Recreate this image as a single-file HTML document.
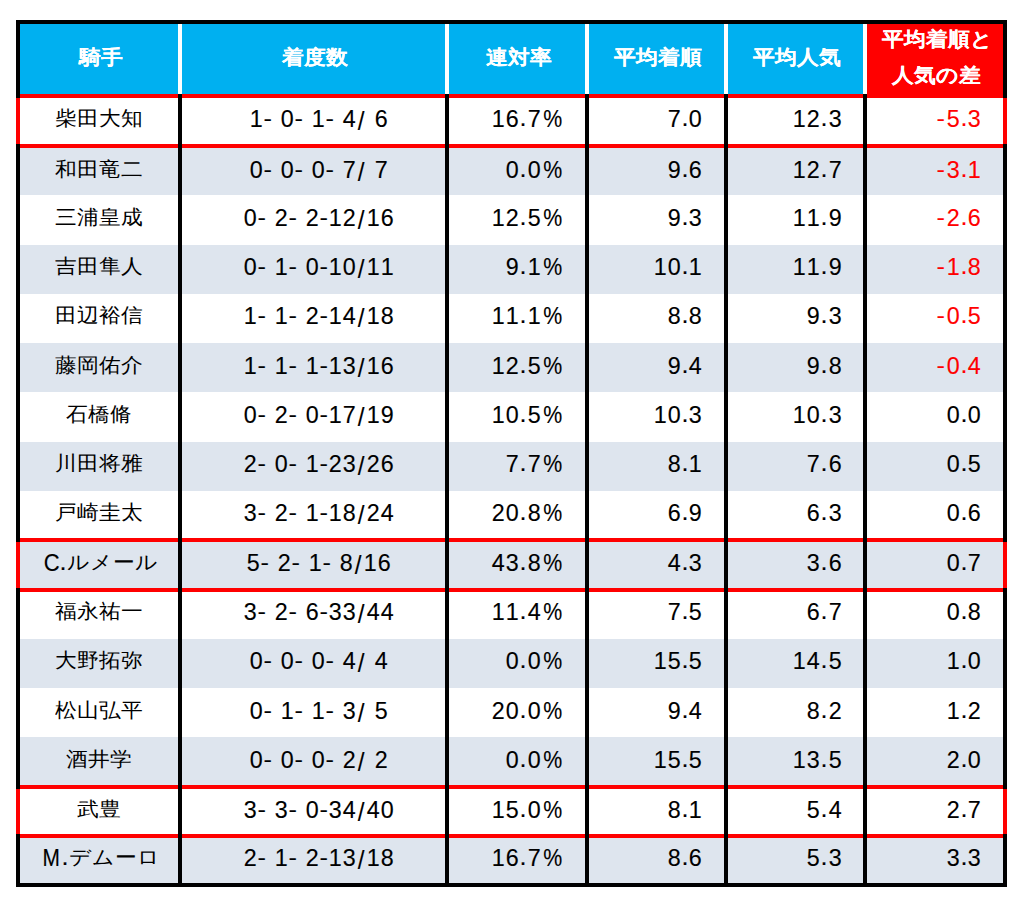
<!DOCTYPE html>
<html><head><meta charset="utf-8"><style>
html,body{margin:0;padding:0;background:#fff}
body{width:1024px;height:909px;position:relative;overflow:hidden;font-family:"Liberation Sans",sans-serif;font-size:22px}
.b{position:absolute}
.t{position:absolute;height:44px;line-height:44px;white-space:pre}
.t span.h{display:inline-block;transform:scaleY(0.92);transform-origin:50% 13px;text-shadow:0 0 0.6px #fff}
.t i{display:inline-block;font-style:normal;text-align:center;white-space:pre}
.t i b{display:inline-block;font-weight:normal;transform-origin:50% 12px;-webkit-text-stroke:0.12px currentColor}
.t u{display:inline-block;text-decoration:none;transform:scaleY(0.92);transform-origin:50% 22px}
</style></head><body>
<div class="b" style="left:20px;top:24px;width:843px;height:70px;background:#00B0F0"></div>
<div class="b" style="left:867px;top:24px;width:136px;height:74px;background:#FF0000"></div>
<div class="b" style="left:178px;top:24px;width:4px;height:70px;background:#fff"></div>
<div class="b" style="left:445px;top:24px;width:4px;height:70px;background:#fff"></div>
<div class="b" style="left:585px;top:24px;width:4px;height:70px;background:#fff"></div>
<div class="b" style="left:724px;top:24px;width:4px;height:70px;background:#fff"></div>
<div class="b" style="left:863px;top:24px;width:4px;height:70px;background:#fff"></div>
<div class="b" style="left:20px;top:146px;width:983px;height:49px;background:#DEE5EE"></div>
<div class="b" style="left:20px;top:245px;width:983px;height:49px;background:#DEE5EE"></div>
<div class="b" style="left:20px;top:343px;width:983px;height:49px;background:#DEE5EE"></div>
<div class="b" style="left:20px;top:442px;width:983px;height:49px;background:#DEE5EE"></div>
<div class="b" style="left:20px;top:540px;width:983px;height:50px;background:#DEE5EE"></div>
<div class="b" style="left:20px;top:639px;width:983px;height:49px;background:#DEE5EE"></div>
<div class="b" style="left:20px;top:737px;width:983px;height:50px;background:#DEE5EE"></div>
<div class="b" style="left:20px;top:836px;width:983px;height:49px;background:#DEE5EE"></div>
<div class="b" style="left:20px;top:94px;width:983px;height:4px;background:#FF0000"></div>
<div class="b" style="left:20px;top:144px;width:983px;height:4px;background:#FF0000"></div>
<div class="b" style="left:20px;top:538px;width:983px;height:4px;background:#FF0000"></div>
<div class="b" style="left:20px;top:588px;width:983px;height:4px;background:#FF0000"></div>
<div class="b" style="left:20px;top:785px;width:983px;height:4px;background:#FF0000"></div>
<div class="b" style="left:20px;top:834px;width:983px;height:4px;background:#FF0000"></div>
<div class="b" style="left:178px;top:94px;width:4px;height:789px;background:#000"></div>
<div class="b" style="left:445px;top:94px;width:4px;height:789px;background:#000"></div>
<div class="b" style="left:585px;top:94px;width:4px;height:789px;background:#000"></div>
<div class="b" style="left:724px;top:94px;width:4px;height:789px;background:#000"></div>
<div class="b" style="left:863px;top:94px;width:4px;height:789px;background:#000"></div>
<div class="b" style="left:16px;top:20px;width:991px;height:4px;background:#000"></div>
<div class="b" style="left:16px;top:883px;width:991px;height:4px;background:#000"></div>
<div class="b" style="left:16px;top:20px;width:4px;height:867px;background:#000"></div>
<div class="b" style="left:1003px;top:20px;width:4px;height:867px;background:#000"></div>
<div class="b" style="left:16px;top:98px;width:4px;height:46px;background:#FF0000"></div>
<div class="b" style="left:1003px;top:98px;width:4px;height:46px;background:#FF0000"></div>
<div class="b" style="left:16px;top:542px;width:4px;height:46px;background:#FF0000"></div>
<div class="b" style="left:1003px;top:542px;width:4px;height:46px;background:#FF0000"></div>
<div class="b" style="left:16px;top:789px;width:4px;height:45px;background:#FF0000"></div>
<div class="b" style="left:1003px;top:789px;width:4px;height:45px;background:#FF0000"></div>
<div class="t" style="top:36.2px;color:#fff;font-weight:bold;font-size:22px;left:-199.5px;width:600px;text-align:center;"><span class="h">騎手</span></div>
<div class="t" style="top:36.2px;color:#fff;font-weight:bold;font-size:22px;left:15.0px;width:600px;text-align:center;"><span class="h">着度数</span></div>
<div class="t" style="top:36.2px;color:#fff;font-weight:bold;font-size:22px;left:218.5px;width:600px;text-align:center;"><span class="h">連対率</span></div>
<div class="t" style="top:36.2px;color:#fff;font-weight:bold;font-size:22px;left:358.0px;width:600px;text-align:center;"><span class="h">平均着順</span></div>
<div class="t" style="top:36.2px;color:#fff;font-weight:bold;font-size:22px;left:497.0px;width:600px;text-align:center;"><span class="h">平均人気</span></div>
<div class="t" style="top:17.6px;color:#fff;font-weight:bold;font-size:22px;left:637.0px;width:600px;text-align:center;"><span class="h">平均着順と</span></div>
<div class="t" style="top:54.0px;color:#fff;font-weight:bold;font-size:22px;left:636.2px;width:600px;text-align:center;"><span class="h">人気の差</span></div>
<div class="t" style="top:96.5px;color:#000;left:-201.0px;width:600px;text-align:center;"><u>柴田大知</u></div>
<div class="t" style="top:96.5px;color:#000;left:18.5px;width:600px;text-align:center;"><i style="width:13.82px"><b style="transform:translateY(-0.4px) scale(1.06,1.09)">1</b></i><i style="width:9.48px"><b style="transform:scaleX(1.15)">-</b></i><i style="width:7.74px"><b style="transform:translateY(-0.4px) scale(1.06,1.09)"> </b></i><i style="width:13.82px"><b style="transform:translateY(-0.4px) scale(1.06,1.09)">0</b></i><i style="width:9.48px"><b style="transform:scaleX(1.15)">-</b></i><i style="width:7.74px"><b style="transform:translateY(-0.4px) scale(1.06,1.09)"> </b></i><i style="width:13.82px"><b style="transform:translateY(-0.4px) scale(1.06,1.09)">1</b></i><i style="width:9.48px"><b style="transform:scaleX(1.15)">-</b></i><i style="width:7.74px"><b style="transform:translateY(-0.4px) scale(1.06,1.09)"> </b></i><i style="width:13.82px"><b style="transform:translateY(-0.4px) scale(1.06,1.09)">4</b></i><i style="width:9.99px"><b style="transform:translateY(0.5px) scale(1.1,1.2)">/</b></i><i style="width:7.74px"><b style="transform:translateY(-0.4px) scale(1.06,1.09)"> </b></i><i style="width:13.82px"><b style="transform:translateY(-0.4px) scale(1.06,1.09)">6</b></i></div>
<div class="t" style="top:96.5px;color:#000;left:-36.0px;width:600px;text-align:right;"><i style="width:13.82px"><b style="transform:translateY(-0.4px) scale(1.06,1.09)">1</b></i><i style="width:13.82px"><b style="transform:translateY(-0.4px) scale(1.06,1.09)">6</b></i><i style="width:8.01px"><b style="transform:translateY(-0.5px) scale(1.15,1.05)">.</b></i><i style="width:13.82px"><b style="transform:translateY(-0.4px) scale(1.06,1.09)">7</b></i><i style="width:22.88px"><b style="transform:translateY(-0.4px) scale(0.97,1.09)">%</b></i></div>
<div class="t" style="top:96.5px;color:#000;left:102.5px;width:600px;text-align:right;"><i style="width:13.82px"><b style="transform:translateY(-0.4px) scale(1.06,1.09)">7</b></i><i style="width:8.01px"><b style="transform:translateY(-0.5px) scale(1.15,1.05)">.</b></i><i style="width:13.82px"><b style="transform:translateY(-0.4px) scale(1.06,1.09)">0</b></i></div>
<div class="t" style="top:96.5px;color:#000;left:242.0px;width:600px;text-align:right;"><i style="width:13.82px"><b style="transform:translateY(-0.4px) scale(1.06,1.09)">1</b></i><i style="width:13.82px"><b style="transform:translateY(-0.4px) scale(1.06,1.09)">2</b></i><i style="width:8.01px"><b style="transform:translateY(-0.5px) scale(1.15,1.05)">.</b></i><i style="width:13.82px"><b style="transform:translateY(-0.4px) scale(1.06,1.09)">3</b></i></div>
<div class="t" style="top:96.5px;color:#FF0000;left:381.5px;width:600px;text-align:right;"><i style="width:9.48px"><b style="transform:scaleX(1.15)">-</b></i><i style="width:13.82px"><b style="transform:translateY(-0.4px) scale(1.06,1.09)">5</b></i><i style="width:8.01px"><b style="transform:translateY(-0.5px) scale(1.15,1.05)">.</b></i><i style="width:13.82px"><b style="transform:translateY(-0.4px) scale(1.06,1.09)">3</b></i></div>
<div class="t" style="top:147.9px;color:#000;left:-201.0px;width:600px;text-align:center;"><u>和田竜二</u></div>
<div class="t" style="top:147.9px;color:#000;left:18.5px;width:600px;text-align:center;"><i style="width:13.82px"><b style="transform:translateY(-0.4px) scale(1.06,1.09)">0</b></i><i style="width:9.48px"><b style="transform:scaleX(1.15)">-</b></i><i style="width:7.74px"><b style="transform:translateY(-0.4px) scale(1.06,1.09)"> </b></i><i style="width:13.82px"><b style="transform:translateY(-0.4px) scale(1.06,1.09)">0</b></i><i style="width:9.48px"><b style="transform:scaleX(1.15)">-</b></i><i style="width:7.74px"><b style="transform:translateY(-0.4px) scale(1.06,1.09)"> </b></i><i style="width:13.82px"><b style="transform:translateY(-0.4px) scale(1.06,1.09)">0</b></i><i style="width:9.48px"><b style="transform:scaleX(1.15)">-</b></i><i style="width:7.74px"><b style="transform:translateY(-0.4px) scale(1.06,1.09)"> </b></i><i style="width:13.82px"><b style="transform:translateY(-0.4px) scale(1.06,1.09)">7</b></i><i style="width:9.99px"><b style="transform:translateY(0.5px) scale(1.1,1.2)">/</b></i><i style="width:7.74px"><b style="transform:translateY(-0.4px) scale(1.06,1.09)"> </b></i><i style="width:13.82px"><b style="transform:translateY(-0.4px) scale(1.06,1.09)">7</b></i></div>
<div class="t" style="top:147.9px;color:#000;left:-36.0px;width:600px;text-align:right;"><i style="width:13.82px"><b style="transform:translateY(-0.4px) scale(1.06,1.09)">0</b></i><i style="width:8.01px"><b style="transform:translateY(-0.5px) scale(1.15,1.05)">.</b></i><i style="width:13.82px"><b style="transform:translateY(-0.4px) scale(1.06,1.09)">0</b></i><i style="width:22.88px"><b style="transform:translateY(-0.4px) scale(0.97,1.09)">%</b></i></div>
<div class="t" style="top:147.9px;color:#000;left:102.5px;width:600px;text-align:right;"><i style="width:13.82px"><b style="transform:translateY(-0.4px) scale(1.06,1.09)">9</b></i><i style="width:8.01px"><b style="transform:translateY(-0.5px) scale(1.15,1.05)">.</b></i><i style="width:13.82px"><b style="transform:translateY(-0.4px) scale(1.06,1.09)">6</b></i></div>
<div class="t" style="top:147.9px;color:#000;left:242.0px;width:600px;text-align:right;"><i style="width:13.82px"><b style="transform:translateY(-0.4px) scale(1.06,1.09)">1</b></i><i style="width:13.82px"><b style="transform:translateY(-0.4px) scale(1.06,1.09)">2</b></i><i style="width:8.01px"><b style="transform:translateY(-0.5px) scale(1.15,1.05)">.</b></i><i style="width:13.82px"><b style="transform:translateY(-0.4px) scale(1.06,1.09)">7</b></i></div>
<div class="t" style="top:147.9px;color:#FF0000;left:381.5px;width:600px;text-align:right;"><i style="width:9.48px"><b style="transform:scaleX(1.15)">-</b></i><i style="width:13.82px"><b style="transform:translateY(-0.4px) scale(1.06,1.09)">3</b></i><i style="width:8.01px"><b style="transform:translateY(-0.5px) scale(1.15,1.05)">.</b></i><i style="width:13.82px"><b style="transform:translateY(-0.4px) scale(1.06,1.09)">1</b></i></div>
<div class="t" style="top:196.0px;color:#000;left:-201.0px;width:600px;text-align:center;"><u>三浦皇成</u></div>
<div class="t" style="top:196.0px;color:#000;left:18.5px;width:600px;text-align:center;"><i style="width:13.82px"><b style="transform:translateY(-0.4px) scale(1.06,1.09)">0</b></i><i style="width:9.48px"><b style="transform:scaleX(1.15)">-</b></i><i style="width:7.74px"><b style="transform:translateY(-0.4px) scale(1.06,1.09)"> </b></i><i style="width:13.82px"><b style="transform:translateY(-0.4px) scale(1.06,1.09)">2</b></i><i style="width:9.48px"><b style="transform:scaleX(1.15)">-</b></i><i style="width:7.74px"><b style="transform:translateY(-0.4px) scale(1.06,1.09)"> </b></i><i style="width:13.82px"><b style="transform:translateY(-0.4px) scale(1.06,1.09)">2</b></i><i style="width:9.48px"><b style="transform:scaleX(1.15)">-</b></i><i style="width:13.82px"><b style="transform:translateY(-0.4px) scale(1.06,1.09)">1</b></i><i style="width:13.82px"><b style="transform:translateY(-0.4px) scale(1.06,1.09)">2</b></i><i style="width:9.99px"><b style="transform:translateY(0.5px) scale(1.1,1.2)">/</b></i><i style="width:13.82px"><b style="transform:translateY(-0.4px) scale(1.06,1.09)">1</b></i><i style="width:13.82px"><b style="transform:translateY(-0.4px) scale(1.06,1.09)">6</b></i></div>
<div class="t" style="top:196.0px;color:#000;left:-36.0px;width:600px;text-align:right;"><i style="width:13.82px"><b style="transform:translateY(-0.4px) scale(1.06,1.09)">1</b></i><i style="width:13.82px"><b style="transform:translateY(-0.4px) scale(1.06,1.09)">2</b></i><i style="width:8.01px"><b style="transform:translateY(-0.5px) scale(1.15,1.05)">.</b></i><i style="width:13.82px"><b style="transform:translateY(-0.4px) scale(1.06,1.09)">5</b></i><i style="width:22.88px"><b style="transform:translateY(-0.4px) scale(0.97,1.09)">%</b></i></div>
<div class="t" style="top:196.0px;color:#000;left:102.5px;width:600px;text-align:right;"><i style="width:13.82px"><b style="transform:translateY(-0.4px) scale(1.06,1.09)">9</b></i><i style="width:8.01px"><b style="transform:translateY(-0.5px) scale(1.15,1.05)">.</b></i><i style="width:13.82px"><b style="transform:translateY(-0.4px) scale(1.06,1.09)">3</b></i></div>
<div class="t" style="top:196.0px;color:#000;left:242.0px;width:600px;text-align:right;"><i style="width:13.82px"><b style="transform:translateY(-0.4px) scale(1.06,1.09)">1</b></i><i style="width:13.82px"><b style="transform:translateY(-0.4px) scale(1.06,1.09)">1</b></i><i style="width:8.01px"><b style="transform:translateY(-0.5px) scale(1.15,1.05)">.</b></i><i style="width:13.82px"><b style="transform:translateY(-0.4px) scale(1.06,1.09)">9</b></i></div>
<div class="t" style="top:196.0px;color:#FF0000;left:381.5px;width:600px;text-align:right;"><i style="width:9.48px"><b style="transform:scaleX(1.15)">-</b></i><i style="width:13.82px"><b style="transform:translateY(-0.4px) scale(1.06,1.09)">2</b></i><i style="width:8.01px"><b style="transform:translateY(-0.5px) scale(1.15,1.05)">.</b></i><i style="width:13.82px"><b style="transform:translateY(-0.4px) scale(1.06,1.09)">6</b></i></div>
<div class="t" style="top:245.2px;color:#000;left:-201.0px;width:600px;text-align:center;"><u>吉田隼人</u></div>
<div class="t" style="top:245.2px;color:#000;left:18.5px;width:600px;text-align:center;"><i style="width:13.82px"><b style="transform:translateY(-0.4px) scale(1.06,1.09)">0</b></i><i style="width:9.48px"><b style="transform:scaleX(1.15)">-</b></i><i style="width:7.74px"><b style="transform:translateY(-0.4px) scale(1.06,1.09)"> </b></i><i style="width:13.82px"><b style="transform:translateY(-0.4px) scale(1.06,1.09)">1</b></i><i style="width:9.48px"><b style="transform:scaleX(1.15)">-</b></i><i style="width:7.74px"><b style="transform:translateY(-0.4px) scale(1.06,1.09)"> </b></i><i style="width:13.82px"><b style="transform:translateY(-0.4px) scale(1.06,1.09)">0</b></i><i style="width:9.48px"><b style="transform:scaleX(1.15)">-</b></i><i style="width:13.82px"><b style="transform:translateY(-0.4px) scale(1.06,1.09)">1</b></i><i style="width:13.82px"><b style="transform:translateY(-0.4px) scale(1.06,1.09)">0</b></i><i style="width:9.99px"><b style="transform:translateY(0.5px) scale(1.1,1.2)">/</b></i><i style="width:13.82px"><b style="transform:translateY(-0.4px) scale(1.06,1.09)">1</b></i><i style="width:13.82px"><b style="transform:translateY(-0.4px) scale(1.06,1.09)">1</b></i></div>
<div class="t" style="top:245.2px;color:#000;left:-36.0px;width:600px;text-align:right;"><i style="width:13.82px"><b style="transform:translateY(-0.4px) scale(1.06,1.09)">9</b></i><i style="width:8.01px"><b style="transform:translateY(-0.5px) scale(1.15,1.05)">.</b></i><i style="width:13.82px"><b style="transform:translateY(-0.4px) scale(1.06,1.09)">1</b></i><i style="width:22.88px"><b style="transform:translateY(-0.4px) scale(0.97,1.09)">%</b></i></div>
<div class="t" style="top:245.2px;color:#000;left:102.5px;width:600px;text-align:right;"><i style="width:13.82px"><b style="transform:translateY(-0.4px) scale(1.06,1.09)">1</b></i><i style="width:13.82px"><b style="transform:translateY(-0.4px) scale(1.06,1.09)">0</b></i><i style="width:8.01px"><b style="transform:translateY(-0.5px) scale(1.15,1.05)">.</b></i><i style="width:13.82px"><b style="transform:translateY(-0.4px) scale(1.06,1.09)">1</b></i></div>
<div class="t" style="top:245.2px;color:#000;left:242.0px;width:600px;text-align:right;"><i style="width:13.82px"><b style="transform:translateY(-0.4px) scale(1.06,1.09)">1</b></i><i style="width:13.82px"><b style="transform:translateY(-0.4px) scale(1.06,1.09)">1</b></i><i style="width:8.01px"><b style="transform:translateY(-0.5px) scale(1.15,1.05)">.</b></i><i style="width:13.82px"><b style="transform:translateY(-0.4px) scale(1.06,1.09)">9</b></i></div>
<div class="t" style="top:245.2px;color:#FF0000;left:381.5px;width:600px;text-align:right;"><i style="width:9.48px"><b style="transform:scaleX(1.15)">-</b></i><i style="width:13.82px"><b style="transform:translateY(-0.4px) scale(1.06,1.09)">1</b></i><i style="width:8.01px"><b style="transform:translateY(-0.5px) scale(1.15,1.05)">.</b></i><i style="width:13.82px"><b style="transform:translateY(-0.4px) scale(1.06,1.09)">8</b></i></div>
<div class="t" style="top:294.0px;color:#000;left:-201.0px;width:600px;text-align:center;"><u>田辺裕信</u></div>
<div class="t" style="top:294.0px;color:#000;left:18.5px;width:600px;text-align:center;"><i style="width:13.82px"><b style="transform:translateY(-0.4px) scale(1.06,1.09)">1</b></i><i style="width:9.48px"><b style="transform:scaleX(1.15)">-</b></i><i style="width:7.74px"><b style="transform:translateY(-0.4px) scale(1.06,1.09)"> </b></i><i style="width:13.82px"><b style="transform:translateY(-0.4px) scale(1.06,1.09)">1</b></i><i style="width:9.48px"><b style="transform:scaleX(1.15)">-</b></i><i style="width:7.74px"><b style="transform:translateY(-0.4px) scale(1.06,1.09)"> </b></i><i style="width:13.82px"><b style="transform:translateY(-0.4px) scale(1.06,1.09)">2</b></i><i style="width:9.48px"><b style="transform:scaleX(1.15)">-</b></i><i style="width:13.82px"><b style="transform:translateY(-0.4px) scale(1.06,1.09)">1</b></i><i style="width:13.82px"><b style="transform:translateY(-0.4px) scale(1.06,1.09)">4</b></i><i style="width:9.99px"><b style="transform:translateY(0.5px) scale(1.1,1.2)">/</b></i><i style="width:13.82px"><b style="transform:translateY(-0.4px) scale(1.06,1.09)">1</b></i><i style="width:13.82px"><b style="transform:translateY(-0.4px) scale(1.06,1.09)">8</b></i></div>
<div class="t" style="top:294.0px;color:#000;left:-36.0px;width:600px;text-align:right;"><i style="width:13.82px"><b style="transform:translateY(-0.4px) scale(1.06,1.09)">1</b></i><i style="width:13.82px"><b style="transform:translateY(-0.4px) scale(1.06,1.09)">1</b></i><i style="width:8.01px"><b style="transform:translateY(-0.5px) scale(1.15,1.05)">.</b></i><i style="width:13.82px"><b style="transform:translateY(-0.4px) scale(1.06,1.09)">1</b></i><i style="width:22.88px"><b style="transform:translateY(-0.4px) scale(0.97,1.09)">%</b></i></div>
<div class="t" style="top:294.0px;color:#000;left:102.5px;width:600px;text-align:right;"><i style="width:13.82px"><b style="transform:translateY(-0.4px) scale(1.06,1.09)">8</b></i><i style="width:8.01px"><b style="transform:translateY(-0.5px) scale(1.15,1.05)">.</b></i><i style="width:13.82px"><b style="transform:translateY(-0.4px) scale(1.06,1.09)">8</b></i></div>
<div class="t" style="top:294.0px;color:#000;left:242.0px;width:600px;text-align:right;"><i style="width:13.82px"><b style="transform:translateY(-0.4px) scale(1.06,1.09)">9</b></i><i style="width:8.01px"><b style="transform:translateY(-0.5px) scale(1.15,1.05)">.</b></i><i style="width:13.82px"><b style="transform:translateY(-0.4px) scale(1.06,1.09)">3</b></i></div>
<div class="t" style="top:294.0px;color:#FF0000;left:381.5px;width:600px;text-align:right;"><i style="width:9.48px"><b style="transform:scaleX(1.15)">-</b></i><i style="width:13.82px"><b style="transform:translateY(-0.4px) scale(1.06,1.09)">0</b></i><i style="width:8.01px"><b style="transform:translateY(-0.5px) scale(1.15,1.05)">.</b></i><i style="width:13.82px"><b style="transform:translateY(-0.4px) scale(1.06,1.09)">5</b></i></div>
<div class="t" style="top:344.1px;color:#000;left:-201.0px;width:600px;text-align:center;"><u>藤岡佑介</u></div>
<div class="t" style="top:344.1px;color:#000;left:18.5px;width:600px;text-align:center;"><i style="width:13.82px"><b style="transform:translateY(-0.4px) scale(1.06,1.09)">1</b></i><i style="width:9.48px"><b style="transform:scaleX(1.15)">-</b></i><i style="width:7.74px"><b style="transform:translateY(-0.4px) scale(1.06,1.09)"> </b></i><i style="width:13.82px"><b style="transform:translateY(-0.4px) scale(1.06,1.09)">1</b></i><i style="width:9.48px"><b style="transform:scaleX(1.15)">-</b></i><i style="width:7.74px"><b style="transform:translateY(-0.4px) scale(1.06,1.09)"> </b></i><i style="width:13.82px"><b style="transform:translateY(-0.4px) scale(1.06,1.09)">1</b></i><i style="width:9.48px"><b style="transform:scaleX(1.15)">-</b></i><i style="width:13.82px"><b style="transform:translateY(-0.4px) scale(1.06,1.09)">1</b></i><i style="width:13.82px"><b style="transform:translateY(-0.4px) scale(1.06,1.09)">3</b></i><i style="width:9.99px"><b style="transform:translateY(0.5px) scale(1.1,1.2)">/</b></i><i style="width:13.82px"><b style="transform:translateY(-0.4px) scale(1.06,1.09)">1</b></i><i style="width:13.82px"><b style="transform:translateY(-0.4px) scale(1.06,1.09)">6</b></i></div>
<div class="t" style="top:344.1px;color:#000;left:-36.0px;width:600px;text-align:right;"><i style="width:13.82px"><b style="transform:translateY(-0.4px) scale(1.06,1.09)">1</b></i><i style="width:13.82px"><b style="transform:translateY(-0.4px) scale(1.06,1.09)">2</b></i><i style="width:8.01px"><b style="transform:translateY(-0.5px) scale(1.15,1.05)">.</b></i><i style="width:13.82px"><b style="transform:translateY(-0.4px) scale(1.06,1.09)">5</b></i><i style="width:22.88px"><b style="transform:translateY(-0.4px) scale(0.97,1.09)">%</b></i></div>
<div class="t" style="top:344.1px;color:#000;left:102.5px;width:600px;text-align:right;"><i style="width:13.82px"><b style="transform:translateY(-0.4px) scale(1.06,1.09)">9</b></i><i style="width:8.01px"><b style="transform:translateY(-0.5px) scale(1.15,1.05)">.</b></i><i style="width:13.82px"><b style="transform:translateY(-0.4px) scale(1.06,1.09)">4</b></i></div>
<div class="t" style="top:344.1px;color:#000;left:242.0px;width:600px;text-align:right;"><i style="width:13.82px"><b style="transform:translateY(-0.4px) scale(1.06,1.09)">9</b></i><i style="width:8.01px"><b style="transform:translateY(-0.5px) scale(1.15,1.05)">.</b></i><i style="width:13.82px"><b style="transform:translateY(-0.4px) scale(1.06,1.09)">8</b></i></div>
<div class="t" style="top:344.1px;color:#FF0000;left:381.5px;width:600px;text-align:right;"><i style="width:9.48px"><b style="transform:scaleX(1.15)">-</b></i><i style="width:13.82px"><b style="transform:translateY(-0.4px) scale(1.06,1.09)">0</b></i><i style="width:8.01px"><b style="transform:translateY(-0.5px) scale(1.15,1.05)">.</b></i><i style="width:13.82px"><b style="transform:translateY(-0.4px) scale(1.06,1.09)">4</b></i></div>
<div class="t" style="top:392.6px;color:#000;left:-201.0px;width:600px;text-align:center;"><u>石橋脩</u></div>
<div class="t" style="top:392.6px;color:#000;left:18.5px;width:600px;text-align:center;"><i style="width:13.82px"><b style="transform:translateY(-0.4px) scale(1.06,1.09)">0</b></i><i style="width:9.48px"><b style="transform:scaleX(1.15)">-</b></i><i style="width:7.74px"><b style="transform:translateY(-0.4px) scale(1.06,1.09)"> </b></i><i style="width:13.82px"><b style="transform:translateY(-0.4px) scale(1.06,1.09)">2</b></i><i style="width:9.48px"><b style="transform:scaleX(1.15)">-</b></i><i style="width:7.74px"><b style="transform:translateY(-0.4px) scale(1.06,1.09)"> </b></i><i style="width:13.82px"><b style="transform:translateY(-0.4px) scale(1.06,1.09)">0</b></i><i style="width:9.48px"><b style="transform:scaleX(1.15)">-</b></i><i style="width:13.82px"><b style="transform:translateY(-0.4px) scale(1.06,1.09)">1</b></i><i style="width:13.82px"><b style="transform:translateY(-0.4px) scale(1.06,1.09)">7</b></i><i style="width:9.99px"><b style="transform:translateY(0.5px) scale(1.1,1.2)">/</b></i><i style="width:13.82px"><b style="transform:translateY(-0.4px) scale(1.06,1.09)">1</b></i><i style="width:13.82px"><b style="transform:translateY(-0.4px) scale(1.06,1.09)">9</b></i></div>
<div class="t" style="top:392.6px;color:#000;left:-36.0px;width:600px;text-align:right;"><i style="width:13.82px"><b style="transform:translateY(-0.4px) scale(1.06,1.09)">1</b></i><i style="width:13.82px"><b style="transform:translateY(-0.4px) scale(1.06,1.09)">0</b></i><i style="width:8.01px"><b style="transform:translateY(-0.5px) scale(1.15,1.05)">.</b></i><i style="width:13.82px"><b style="transform:translateY(-0.4px) scale(1.06,1.09)">5</b></i><i style="width:22.88px"><b style="transform:translateY(-0.4px) scale(0.97,1.09)">%</b></i></div>
<div class="t" style="top:392.6px;color:#000;left:102.5px;width:600px;text-align:right;"><i style="width:13.82px"><b style="transform:translateY(-0.4px) scale(1.06,1.09)">1</b></i><i style="width:13.82px"><b style="transform:translateY(-0.4px) scale(1.06,1.09)">0</b></i><i style="width:8.01px"><b style="transform:translateY(-0.5px) scale(1.15,1.05)">.</b></i><i style="width:13.82px"><b style="transform:translateY(-0.4px) scale(1.06,1.09)">3</b></i></div>
<div class="t" style="top:392.6px;color:#000;left:242.0px;width:600px;text-align:right;"><i style="width:13.82px"><b style="transform:translateY(-0.4px) scale(1.06,1.09)">1</b></i><i style="width:13.82px"><b style="transform:translateY(-0.4px) scale(1.06,1.09)">0</b></i><i style="width:8.01px"><b style="transform:translateY(-0.5px) scale(1.15,1.05)">.</b></i><i style="width:13.82px"><b style="transform:translateY(-0.4px) scale(1.06,1.09)">3</b></i></div>
<div class="t" style="top:392.6px;color:#000;left:381.5px;width:600px;text-align:right;"><i style="width:13.82px"><b style="transform:translateY(-0.4px) scale(1.06,1.09)">0</b></i><i style="width:8.01px"><b style="transform:translateY(-0.5px) scale(1.15,1.05)">.</b></i><i style="width:13.82px"><b style="transform:translateY(-0.4px) scale(1.06,1.09)">0</b></i></div>
<div class="t" style="top:441.9px;color:#000;left:-201.0px;width:600px;text-align:center;"><u>川田将雅</u></div>
<div class="t" style="top:441.9px;color:#000;left:18.5px;width:600px;text-align:center;"><i style="width:13.82px"><b style="transform:translateY(-0.4px) scale(1.06,1.09)">2</b></i><i style="width:9.48px"><b style="transform:scaleX(1.15)">-</b></i><i style="width:7.74px"><b style="transform:translateY(-0.4px) scale(1.06,1.09)"> </b></i><i style="width:13.82px"><b style="transform:translateY(-0.4px) scale(1.06,1.09)">0</b></i><i style="width:9.48px"><b style="transform:scaleX(1.15)">-</b></i><i style="width:7.74px"><b style="transform:translateY(-0.4px) scale(1.06,1.09)"> </b></i><i style="width:13.82px"><b style="transform:translateY(-0.4px) scale(1.06,1.09)">1</b></i><i style="width:9.48px"><b style="transform:scaleX(1.15)">-</b></i><i style="width:13.82px"><b style="transform:translateY(-0.4px) scale(1.06,1.09)">2</b></i><i style="width:13.82px"><b style="transform:translateY(-0.4px) scale(1.06,1.09)">3</b></i><i style="width:9.99px"><b style="transform:translateY(0.5px) scale(1.1,1.2)">/</b></i><i style="width:13.82px"><b style="transform:translateY(-0.4px) scale(1.06,1.09)">2</b></i><i style="width:13.82px"><b style="transform:translateY(-0.4px) scale(1.06,1.09)">6</b></i></div>
<div class="t" style="top:441.9px;color:#000;left:-36.0px;width:600px;text-align:right;"><i style="width:13.82px"><b style="transform:translateY(-0.4px) scale(1.06,1.09)">7</b></i><i style="width:8.01px"><b style="transform:translateY(-0.5px) scale(1.15,1.05)">.</b></i><i style="width:13.82px"><b style="transform:translateY(-0.4px) scale(1.06,1.09)">7</b></i><i style="width:22.88px"><b style="transform:translateY(-0.4px) scale(0.97,1.09)">%</b></i></div>
<div class="t" style="top:441.9px;color:#000;left:102.5px;width:600px;text-align:right;"><i style="width:13.82px"><b style="transform:translateY(-0.4px) scale(1.06,1.09)">8</b></i><i style="width:8.01px"><b style="transform:translateY(-0.5px) scale(1.15,1.05)">.</b></i><i style="width:13.82px"><b style="transform:translateY(-0.4px) scale(1.06,1.09)">1</b></i></div>
<div class="t" style="top:441.9px;color:#000;left:242.0px;width:600px;text-align:right;"><i style="width:13.82px"><b style="transform:translateY(-0.4px) scale(1.06,1.09)">7</b></i><i style="width:8.01px"><b style="transform:translateY(-0.5px) scale(1.15,1.05)">.</b></i><i style="width:13.82px"><b style="transform:translateY(-0.4px) scale(1.06,1.09)">6</b></i></div>
<div class="t" style="top:441.9px;color:#000;left:381.5px;width:600px;text-align:right;"><i style="width:13.82px"><b style="transform:translateY(-0.4px) scale(1.06,1.09)">0</b></i><i style="width:8.01px"><b style="transform:translateY(-0.5px) scale(1.15,1.05)">.</b></i><i style="width:13.82px"><b style="transform:translateY(-0.4px) scale(1.06,1.09)">5</b></i></div>
<div class="t" style="top:491.2px;color:#000;left:-201.0px;width:600px;text-align:center;"><u>戸崎圭太</u></div>
<div class="t" style="top:491.2px;color:#000;left:18.5px;width:600px;text-align:center;"><i style="width:13.82px"><b style="transform:translateY(-0.4px) scale(1.06,1.09)">3</b></i><i style="width:9.48px"><b style="transform:scaleX(1.15)">-</b></i><i style="width:7.74px"><b style="transform:translateY(-0.4px) scale(1.06,1.09)"> </b></i><i style="width:13.82px"><b style="transform:translateY(-0.4px) scale(1.06,1.09)">2</b></i><i style="width:9.48px"><b style="transform:scaleX(1.15)">-</b></i><i style="width:7.74px"><b style="transform:translateY(-0.4px) scale(1.06,1.09)"> </b></i><i style="width:13.82px"><b style="transform:translateY(-0.4px) scale(1.06,1.09)">1</b></i><i style="width:9.48px"><b style="transform:scaleX(1.15)">-</b></i><i style="width:13.82px"><b style="transform:translateY(-0.4px) scale(1.06,1.09)">1</b></i><i style="width:13.82px"><b style="transform:translateY(-0.4px) scale(1.06,1.09)">8</b></i><i style="width:9.99px"><b style="transform:translateY(0.5px) scale(1.1,1.2)">/</b></i><i style="width:13.82px"><b style="transform:translateY(-0.4px) scale(1.06,1.09)">2</b></i><i style="width:13.82px"><b style="transform:translateY(-0.4px) scale(1.06,1.09)">4</b></i></div>
<div class="t" style="top:491.2px;color:#000;left:-36.0px;width:600px;text-align:right;"><i style="width:13.82px"><b style="transform:translateY(-0.4px) scale(1.06,1.09)">2</b></i><i style="width:13.82px"><b style="transform:translateY(-0.4px) scale(1.06,1.09)">0</b></i><i style="width:8.01px"><b style="transform:translateY(-0.5px) scale(1.15,1.05)">.</b></i><i style="width:13.82px"><b style="transform:translateY(-0.4px) scale(1.06,1.09)">8</b></i><i style="width:22.88px"><b style="transform:translateY(-0.4px) scale(0.97,1.09)">%</b></i></div>
<div class="t" style="top:491.2px;color:#000;left:102.5px;width:600px;text-align:right;"><i style="width:13.82px"><b style="transform:translateY(-0.4px) scale(1.06,1.09)">6</b></i><i style="width:8.01px"><b style="transform:translateY(-0.5px) scale(1.15,1.05)">.</b></i><i style="width:13.82px"><b style="transform:translateY(-0.4px) scale(1.06,1.09)">9</b></i></div>
<div class="t" style="top:491.2px;color:#000;left:242.0px;width:600px;text-align:right;"><i style="width:13.82px"><b style="transform:translateY(-0.4px) scale(1.06,1.09)">6</b></i><i style="width:8.01px"><b style="transform:translateY(-0.5px) scale(1.15,1.05)">.</b></i><i style="width:13.82px"><b style="transform:translateY(-0.4px) scale(1.06,1.09)">3</b></i></div>
<div class="t" style="top:491.2px;color:#000;left:381.5px;width:600px;text-align:right;"><i style="width:13.82px"><b style="transform:translateY(-0.4px) scale(1.06,1.09)">0</b></i><i style="width:8.01px"><b style="transform:translateY(-0.5px) scale(1.15,1.05)">.</b></i><i style="width:13.82px"><b style="transform:translateY(-0.4px) scale(1.06,1.09)">6</b></i></div>
<div class="t" style="top:540.5px;color:#000;left:-199.0px;width:600px;text-align:center;"><i style="width:15.36px"><b style="transform:translateY(-0.4px) scale(1.0,1.06)">C</b></i><i style="width:8.01px"><b style="transform:translateY(-0.5px) scale(1.15,1.05)">.</b></i><u>ルメール</u></div>
<div class="t" style="top:540.5px;color:#000;left:18.5px;width:600px;text-align:center;"><i style="width:13.82px"><b style="transform:translateY(-0.4px) scale(1.06,1.09)">5</b></i><i style="width:9.48px"><b style="transform:scaleX(1.15)">-</b></i><i style="width:7.74px"><b style="transform:translateY(-0.4px) scale(1.06,1.09)"> </b></i><i style="width:13.82px"><b style="transform:translateY(-0.4px) scale(1.06,1.09)">2</b></i><i style="width:9.48px"><b style="transform:scaleX(1.15)">-</b></i><i style="width:7.74px"><b style="transform:translateY(-0.4px) scale(1.06,1.09)"> </b></i><i style="width:13.82px"><b style="transform:translateY(-0.4px) scale(1.06,1.09)">1</b></i><i style="width:9.48px"><b style="transform:scaleX(1.15)">-</b></i><i style="width:7.74px"><b style="transform:translateY(-0.4px) scale(1.06,1.09)"> </b></i><i style="width:13.82px"><b style="transform:translateY(-0.4px) scale(1.06,1.09)">8</b></i><i style="width:9.99px"><b style="transform:translateY(0.5px) scale(1.1,1.2)">/</b></i><i style="width:13.82px"><b style="transform:translateY(-0.4px) scale(1.06,1.09)">1</b></i><i style="width:13.82px"><b style="transform:translateY(-0.4px) scale(1.06,1.09)">6</b></i></div>
<div class="t" style="top:540.5px;color:#000;left:-36.0px;width:600px;text-align:right;"><i style="width:13.82px"><b style="transform:translateY(-0.4px) scale(1.06,1.09)">4</b></i><i style="width:13.82px"><b style="transform:translateY(-0.4px) scale(1.06,1.09)">3</b></i><i style="width:8.01px"><b style="transform:translateY(-0.5px) scale(1.15,1.05)">.</b></i><i style="width:13.82px"><b style="transform:translateY(-0.4px) scale(1.06,1.09)">8</b></i><i style="width:22.88px"><b style="transform:translateY(-0.4px) scale(0.97,1.09)">%</b></i></div>
<div class="t" style="top:540.5px;color:#000;left:102.5px;width:600px;text-align:right;"><i style="width:13.82px"><b style="transform:translateY(-0.4px) scale(1.06,1.09)">4</b></i><i style="width:8.01px"><b style="transform:translateY(-0.5px) scale(1.15,1.05)">.</b></i><i style="width:13.82px"><b style="transform:translateY(-0.4px) scale(1.06,1.09)">3</b></i></div>
<div class="t" style="top:540.5px;color:#000;left:242.0px;width:600px;text-align:right;"><i style="width:13.82px"><b style="transform:translateY(-0.4px) scale(1.06,1.09)">3</b></i><i style="width:8.01px"><b style="transform:translateY(-0.5px) scale(1.15,1.05)">.</b></i><i style="width:13.82px"><b style="transform:translateY(-0.4px) scale(1.06,1.09)">6</b></i></div>
<div class="t" style="top:540.5px;color:#000;left:381.5px;width:600px;text-align:right;"><i style="width:13.82px"><b style="transform:translateY(-0.4px) scale(1.06,1.09)">0</b></i><i style="width:8.01px"><b style="transform:translateY(-0.5px) scale(1.15,1.05)">.</b></i><i style="width:13.82px"><b style="transform:translateY(-0.4px) scale(1.06,1.09)">7</b></i></div>
<div class="t" style="top:589.8px;color:#000;left:-201.0px;width:600px;text-align:center;"><u>福永祐一</u></div>
<div class="t" style="top:589.8px;color:#000;left:18.5px;width:600px;text-align:center;"><i style="width:13.82px"><b style="transform:translateY(-0.4px) scale(1.06,1.09)">3</b></i><i style="width:9.48px"><b style="transform:scaleX(1.15)">-</b></i><i style="width:7.74px"><b style="transform:translateY(-0.4px) scale(1.06,1.09)"> </b></i><i style="width:13.82px"><b style="transform:translateY(-0.4px) scale(1.06,1.09)">2</b></i><i style="width:9.48px"><b style="transform:scaleX(1.15)">-</b></i><i style="width:7.74px"><b style="transform:translateY(-0.4px) scale(1.06,1.09)"> </b></i><i style="width:13.82px"><b style="transform:translateY(-0.4px) scale(1.06,1.09)">6</b></i><i style="width:9.48px"><b style="transform:scaleX(1.15)">-</b></i><i style="width:13.82px"><b style="transform:translateY(-0.4px) scale(1.06,1.09)">3</b></i><i style="width:13.82px"><b style="transform:translateY(-0.4px) scale(1.06,1.09)">3</b></i><i style="width:9.99px"><b style="transform:translateY(0.5px) scale(1.1,1.2)">/</b></i><i style="width:13.82px"><b style="transform:translateY(-0.4px) scale(1.06,1.09)">4</b></i><i style="width:13.82px"><b style="transform:translateY(-0.4px) scale(1.06,1.09)">4</b></i></div>
<div class="t" style="top:589.8px;color:#000;left:-36.0px;width:600px;text-align:right;"><i style="width:13.82px"><b style="transform:translateY(-0.4px) scale(1.06,1.09)">1</b></i><i style="width:13.82px"><b style="transform:translateY(-0.4px) scale(1.06,1.09)">1</b></i><i style="width:8.01px"><b style="transform:translateY(-0.5px) scale(1.15,1.05)">.</b></i><i style="width:13.82px"><b style="transform:translateY(-0.4px) scale(1.06,1.09)">4</b></i><i style="width:22.88px"><b style="transform:translateY(-0.4px) scale(0.97,1.09)">%</b></i></div>
<div class="t" style="top:589.8px;color:#000;left:102.5px;width:600px;text-align:right;"><i style="width:13.82px"><b style="transform:translateY(-0.4px) scale(1.06,1.09)">7</b></i><i style="width:8.01px"><b style="transform:translateY(-0.5px) scale(1.15,1.05)">.</b></i><i style="width:13.82px"><b style="transform:translateY(-0.4px) scale(1.06,1.09)">5</b></i></div>
<div class="t" style="top:589.8px;color:#000;left:242.0px;width:600px;text-align:right;"><i style="width:13.82px"><b style="transform:translateY(-0.4px) scale(1.06,1.09)">6</b></i><i style="width:8.01px"><b style="transform:translateY(-0.5px) scale(1.15,1.05)">.</b></i><i style="width:13.82px"><b style="transform:translateY(-0.4px) scale(1.06,1.09)">7</b></i></div>
<div class="t" style="top:589.8px;color:#000;left:381.5px;width:600px;text-align:right;"><i style="width:13.82px"><b style="transform:translateY(-0.4px) scale(1.06,1.09)">0</b></i><i style="width:8.01px"><b style="transform:translateY(-0.5px) scale(1.15,1.05)">.</b></i><i style="width:13.82px"><b style="transform:translateY(-0.4px) scale(1.06,1.09)">8</b></i></div>
<div class="t" style="top:639.0px;color:#000;left:-201.0px;width:600px;text-align:center;"><u>大野拓弥</u></div>
<div class="t" style="top:639.0px;color:#000;left:18.5px;width:600px;text-align:center;"><i style="width:13.82px"><b style="transform:translateY(-0.4px) scale(1.06,1.09)">0</b></i><i style="width:9.48px"><b style="transform:scaleX(1.15)">-</b></i><i style="width:7.74px"><b style="transform:translateY(-0.4px) scale(1.06,1.09)"> </b></i><i style="width:13.82px"><b style="transform:translateY(-0.4px) scale(1.06,1.09)">0</b></i><i style="width:9.48px"><b style="transform:scaleX(1.15)">-</b></i><i style="width:7.74px"><b style="transform:translateY(-0.4px) scale(1.06,1.09)"> </b></i><i style="width:13.82px"><b style="transform:translateY(-0.4px) scale(1.06,1.09)">0</b></i><i style="width:9.48px"><b style="transform:scaleX(1.15)">-</b></i><i style="width:7.74px"><b style="transform:translateY(-0.4px) scale(1.06,1.09)"> </b></i><i style="width:13.82px"><b style="transform:translateY(-0.4px) scale(1.06,1.09)">4</b></i><i style="width:9.99px"><b style="transform:translateY(0.5px) scale(1.1,1.2)">/</b></i><i style="width:7.74px"><b style="transform:translateY(-0.4px) scale(1.06,1.09)"> </b></i><i style="width:13.82px"><b style="transform:translateY(-0.4px) scale(1.06,1.09)">4</b></i></div>
<div class="t" style="top:639.0px;color:#000;left:-36.0px;width:600px;text-align:right;"><i style="width:13.82px"><b style="transform:translateY(-0.4px) scale(1.06,1.09)">0</b></i><i style="width:8.01px"><b style="transform:translateY(-0.5px) scale(1.15,1.05)">.</b></i><i style="width:13.82px"><b style="transform:translateY(-0.4px) scale(1.06,1.09)">0</b></i><i style="width:22.88px"><b style="transform:translateY(-0.4px) scale(0.97,1.09)">%</b></i></div>
<div class="t" style="top:639.0px;color:#000;left:102.5px;width:600px;text-align:right;"><i style="width:13.82px"><b style="transform:translateY(-0.4px) scale(1.06,1.09)">1</b></i><i style="width:13.82px"><b style="transform:translateY(-0.4px) scale(1.06,1.09)">5</b></i><i style="width:8.01px"><b style="transform:translateY(-0.5px) scale(1.15,1.05)">.</b></i><i style="width:13.82px"><b style="transform:translateY(-0.4px) scale(1.06,1.09)">5</b></i></div>
<div class="t" style="top:639.0px;color:#000;left:242.0px;width:600px;text-align:right;"><i style="width:13.82px"><b style="transform:translateY(-0.4px) scale(1.06,1.09)">1</b></i><i style="width:13.82px"><b style="transform:translateY(-0.4px) scale(1.06,1.09)">4</b></i><i style="width:8.01px"><b style="transform:translateY(-0.5px) scale(1.15,1.05)">.</b></i><i style="width:13.82px"><b style="transform:translateY(-0.4px) scale(1.06,1.09)">5</b></i></div>
<div class="t" style="top:639.0px;color:#000;left:381.5px;width:600px;text-align:right;"><i style="width:13.82px"><b style="transform:translateY(-0.4px) scale(1.06,1.09)">1</b></i><i style="width:8.01px"><b style="transform:translateY(-0.5px) scale(1.15,1.05)">.</b></i><i style="width:13.82px"><b style="transform:translateY(-0.4px) scale(1.06,1.09)">0</b></i></div>
<div class="t" style="top:689.3px;color:#000;left:-201.0px;width:600px;text-align:center;"><u>松山弘平</u></div>
<div class="t" style="top:689.3px;color:#000;left:18.5px;width:600px;text-align:center;"><i style="width:13.82px"><b style="transform:translateY(-0.4px) scale(1.06,1.09)">0</b></i><i style="width:9.48px"><b style="transform:scaleX(1.15)">-</b></i><i style="width:7.74px"><b style="transform:translateY(-0.4px) scale(1.06,1.09)"> </b></i><i style="width:13.82px"><b style="transform:translateY(-0.4px) scale(1.06,1.09)">1</b></i><i style="width:9.48px"><b style="transform:scaleX(1.15)">-</b></i><i style="width:7.74px"><b style="transform:translateY(-0.4px) scale(1.06,1.09)"> </b></i><i style="width:13.82px"><b style="transform:translateY(-0.4px) scale(1.06,1.09)">1</b></i><i style="width:9.48px"><b style="transform:scaleX(1.15)">-</b></i><i style="width:7.74px"><b style="transform:translateY(-0.4px) scale(1.06,1.09)"> </b></i><i style="width:13.82px"><b style="transform:translateY(-0.4px) scale(1.06,1.09)">3</b></i><i style="width:9.99px"><b style="transform:translateY(0.5px) scale(1.1,1.2)">/</b></i><i style="width:7.74px"><b style="transform:translateY(-0.4px) scale(1.06,1.09)"> </b></i><i style="width:13.82px"><b style="transform:translateY(-0.4px) scale(1.06,1.09)">5</b></i></div>
<div class="t" style="top:689.3px;color:#000;left:-36.0px;width:600px;text-align:right;"><i style="width:13.82px"><b style="transform:translateY(-0.4px) scale(1.06,1.09)">2</b></i><i style="width:13.82px"><b style="transform:translateY(-0.4px) scale(1.06,1.09)">0</b></i><i style="width:8.01px"><b style="transform:translateY(-0.5px) scale(1.15,1.05)">.</b></i><i style="width:13.82px"><b style="transform:translateY(-0.4px) scale(1.06,1.09)">0</b></i><i style="width:22.88px"><b style="transform:translateY(-0.4px) scale(0.97,1.09)">%</b></i></div>
<div class="t" style="top:689.3px;color:#000;left:102.5px;width:600px;text-align:right;"><i style="width:13.82px"><b style="transform:translateY(-0.4px) scale(1.06,1.09)">9</b></i><i style="width:8.01px"><b style="transform:translateY(-0.5px) scale(1.15,1.05)">.</b></i><i style="width:13.82px"><b style="transform:translateY(-0.4px) scale(1.06,1.09)">4</b></i></div>
<div class="t" style="top:689.3px;color:#000;left:242.0px;width:600px;text-align:right;"><i style="width:13.82px"><b style="transform:translateY(-0.4px) scale(1.06,1.09)">8</b></i><i style="width:8.01px"><b style="transform:translateY(-0.5px) scale(1.15,1.05)">.</b></i><i style="width:13.82px"><b style="transform:translateY(-0.4px) scale(1.06,1.09)">2</b></i></div>
<div class="t" style="top:689.3px;color:#000;left:381.5px;width:600px;text-align:right;"><i style="width:13.82px"><b style="transform:translateY(-0.4px) scale(1.06,1.09)">1</b></i><i style="width:8.01px"><b style="transform:translateY(-0.5px) scale(1.15,1.05)">.</b></i><i style="width:13.82px"><b style="transform:translateY(-0.4px) scale(1.06,1.09)">2</b></i></div>
<div class="t" style="top:737.6px;color:#000;left:-201.0px;width:600px;text-align:center;"><u>酒井学</u></div>
<div class="t" style="top:737.6px;color:#000;left:18.5px;width:600px;text-align:center;"><i style="width:13.82px"><b style="transform:translateY(-0.4px) scale(1.06,1.09)">0</b></i><i style="width:9.48px"><b style="transform:scaleX(1.15)">-</b></i><i style="width:7.74px"><b style="transform:translateY(-0.4px) scale(1.06,1.09)"> </b></i><i style="width:13.82px"><b style="transform:translateY(-0.4px) scale(1.06,1.09)">0</b></i><i style="width:9.48px"><b style="transform:scaleX(1.15)">-</b></i><i style="width:7.74px"><b style="transform:translateY(-0.4px) scale(1.06,1.09)"> </b></i><i style="width:13.82px"><b style="transform:translateY(-0.4px) scale(1.06,1.09)">0</b></i><i style="width:9.48px"><b style="transform:scaleX(1.15)">-</b></i><i style="width:7.74px"><b style="transform:translateY(-0.4px) scale(1.06,1.09)"> </b></i><i style="width:13.82px"><b style="transform:translateY(-0.4px) scale(1.06,1.09)">2</b></i><i style="width:9.99px"><b style="transform:translateY(0.5px) scale(1.1,1.2)">/</b></i><i style="width:7.74px"><b style="transform:translateY(-0.4px) scale(1.06,1.09)"> </b></i><i style="width:13.82px"><b style="transform:translateY(-0.4px) scale(1.06,1.09)">2</b></i></div>
<div class="t" style="top:737.6px;color:#000;left:-36.0px;width:600px;text-align:right;"><i style="width:13.82px"><b style="transform:translateY(-0.4px) scale(1.06,1.09)">0</b></i><i style="width:8.01px"><b style="transform:translateY(-0.5px) scale(1.15,1.05)">.</b></i><i style="width:13.82px"><b style="transform:translateY(-0.4px) scale(1.06,1.09)">0</b></i><i style="width:22.88px"><b style="transform:translateY(-0.4px) scale(0.97,1.09)">%</b></i></div>
<div class="t" style="top:737.6px;color:#000;left:102.5px;width:600px;text-align:right;"><i style="width:13.82px"><b style="transform:translateY(-0.4px) scale(1.06,1.09)">1</b></i><i style="width:13.82px"><b style="transform:translateY(-0.4px) scale(1.06,1.09)">5</b></i><i style="width:8.01px"><b style="transform:translateY(-0.5px) scale(1.15,1.05)">.</b></i><i style="width:13.82px"><b style="transform:translateY(-0.4px) scale(1.06,1.09)">5</b></i></div>
<div class="t" style="top:737.6px;color:#000;left:242.0px;width:600px;text-align:right;"><i style="width:13.82px"><b style="transform:translateY(-0.4px) scale(1.06,1.09)">1</b></i><i style="width:13.82px"><b style="transform:translateY(-0.4px) scale(1.06,1.09)">3</b></i><i style="width:8.01px"><b style="transform:translateY(-0.5px) scale(1.15,1.05)">.</b></i><i style="width:13.82px"><b style="transform:translateY(-0.4px) scale(1.06,1.09)">5</b></i></div>
<div class="t" style="top:737.6px;color:#000;left:381.5px;width:600px;text-align:right;"><i style="width:13.82px"><b style="transform:translateY(-0.4px) scale(1.06,1.09)">2</b></i><i style="width:8.01px"><b style="transform:translateY(-0.5px) scale(1.15,1.05)">.</b></i><i style="width:13.82px"><b style="transform:translateY(-0.4px) scale(1.06,1.09)">0</b></i></div>
<div class="t" style="top:787.6px;color:#000;left:-201.0px;width:600px;text-align:center;"><u>武豊</u></div>
<div class="t" style="top:787.6px;color:#000;left:18.5px;width:600px;text-align:center;"><i style="width:13.82px"><b style="transform:translateY(-0.4px) scale(1.06,1.09)">3</b></i><i style="width:9.48px"><b style="transform:scaleX(1.15)">-</b></i><i style="width:7.74px"><b style="transform:translateY(-0.4px) scale(1.06,1.09)"> </b></i><i style="width:13.82px"><b style="transform:translateY(-0.4px) scale(1.06,1.09)">3</b></i><i style="width:9.48px"><b style="transform:scaleX(1.15)">-</b></i><i style="width:7.74px"><b style="transform:translateY(-0.4px) scale(1.06,1.09)"> </b></i><i style="width:13.82px"><b style="transform:translateY(-0.4px) scale(1.06,1.09)">0</b></i><i style="width:9.48px"><b style="transform:scaleX(1.15)">-</b></i><i style="width:13.82px"><b style="transform:translateY(-0.4px) scale(1.06,1.09)">3</b></i><i style="width:13.82px"><b style="transform:translateY(-0.4px) scale(1.06,1.09)">4</b></i><i style="width:9.99px"><b style="transform:translateY(0.5px) scale(1.1,1.2)">/</b></i><i style="width:13.82px"><b style="transform:translateY(-0.4px) scale(1.06,1.09)">4</b></i><i style="width:13.82px"><b style="transform:translateY(-0.4px) scale(1.06,1.09)">0</b></i></div>
<div class="t" style="top:787.6px;color:#000;left:-36.0px;width:600px;text-align:right;"><i style="width:13.82px"><b style="transform:translateY(-0.4px) scale(1.06,1.09)">1</b></i><i style="width:13.82px"><b style="transform:translateY(-0.4px) scale(1.06,1.09)">5</b></i><i style="width:8.01px"><b style="transform:translateY(-0.5px) scale(1.15,1.05)">.</b></i><i style="width:13.82px"><b style="transform:translateY(-0.4px) scale(1.06,1.09)">0</b></i><i style="width:22.88px"><b style="transform:translateY(-0.4px) scale(0.97,1.09)">%</b></i></div>
<div class="t" style="top:787.6px;color:#000;left:102.5px;width:600px;text-align:right;"><i style="width:13.82px"><b style="transform:translateY(-0.4px) scale(1.06,1.09)">8</b></i><i style="width:8.01px"><b style="transform:translateY(-0.5px) scale(1.15,1.05)">.</b></i><i style="width:13.82px"><b style="transform:translateY(-0.4px) scale(1.06,1.09)">1</b></i></div>
<div class="t" style="top:787.6px;color:#000;left:242.0px;width:600px;text-align:right;"><i style="width:13.82px"><b style="transform:translateY(-0.4px) scale(1.06,1.09)">5</b></i><i style="width:8.01px"><b style="transform:translateY(-0.5px) scale(1.15,1.05)">.</b></i><i style="width:13.82px"><b style="transform:translateY(-0.4px) scale(1.06,1.09)">4</b></i></div>
<div class="t" style="top:787.6px;color:#000;left:381.5px;width:600px;text-align:right;"><i style="width:13.82px"><b style="transform:translateY(-0.4px) scale(1.06,1.09)">2</b></i><i style="width:8.01px"><b style="transform:translateY(-0.5px) scale(1.15,1.05)">.</b></i><i style="width:13.82px"><b style="transform:translateY(-0.4px) scale(1.06,1.09)">7</b></i></div>
<div class="t" style="top:836.0px;color:#000;left:-199.0px;width:600px;text-align:center;"><i style="width:18.99px"><b style="transform:translateY(-0.4px) scale(0.95,1.06)">M</b></i><i style="width:8.01px"><b style="transform:translateY(-0.5px) scale(1.15,1.05)">.</b></i><u>デムーロ</u></div>
<div class="t" style="top:836.0px;color:#000;left:18.5px;width:600px;text-align:center;"><i style="width:13.82px"><b style="transform:translateY(-0.4px) scale(1.06,1.09)">2</b></i><i style="width:9.48px"><b style="transform:scaleX(1.15)">-</b></i><i style="width:7.74px"><b style="transform:translateY(-0.4px) scale(1.06,1.09)"> </b></i><i style="width:13.82px"><b style="transform:translateY(-0.4px) scale(1.06,1.09)">1</b></i><i style="width:9.48px"><b style="transform:scaleX(1.15)">-</b></i><i style="width:7.74px"><b style="transform:translateY(-0.4px) scale(1.06,1.09)"> </b></i><i style="width:13.82px"><b style="transform:translateY(-0.4px) scale(1.06,1.09)">2</b></i><i style="width:9.48px"><b style="transform:scaleX(1.15)">-</b></i><i style="width:13.82px"><b style="transform:translateY(-0.4px) scale(1.06,1.09)">1</b></i><i style="width:13.82px"><b style="transform:translateY(-0.4px) scale(1.06,1.09)">3</b></i><i style="width:9.99px"><b style="transform:translateY(0.5px) scale(1.1,1.2)">/</b></i><i style="width:13.82px"><b style="transform:translateY(-0.4px) scale(1.06,1.09)">1</b></i><i style="width:13.82px"><b style="transform:translateY(-0.4px) scale(1.06,1.09)">8</b></i></div>
<div class="t" style="top:836.0px;color:#000;left:-36.0px;width:600px;text-align:right;"><i style="width:13.82px"><b style="transform:translateY(-0.4px) scale(1.06,1.09)">1</b></i><i style="width:13.82px"><b style="transform:translateY(-0.4px) scale(1.06,1.09)">6</b></i><i style="width:8.01px"><b style="transform:translateY(-0.5px) scale(1.15,1.05)">.</b></i><i style="width:13.82px"><b style="transform:translateY(-0.4px) scale(1.06,1.09)">7</b></i><i style="width:22.88px"><b style="transform:translateY(-0.4px) scale(0.97,1.09)">%</b></i></div>
<div class="t" style="top:836.0px;color:#000;left:102.5px;width:600px;text-align:right;"><i style="width:13.82px"><b style="transform:translateY(-0.4px) scale(1.06,1.09)">8</b></i><i style="width:8.01px"><b style="transform:translateY(-0.5px) scale(1.15,1.05)">.</b></i><i style="width:13.82px"><b style="transform:translateY(-0.4px) scale(1.06,1.09)">6</b></i></div>
<div class="t" style="top:836.0px;color:#000;left:242.0px;width:600px;text-align:right;"><i style="width:13.82px"><b style="transform:translateY(-0.4px) scale(1.06,1.09)">5</b></i><i style="width:8.01px"><b style="transform:translateY(-0.5px) scale(1.15,1.05)">.</b></i><i style="width:13.82px"><b style="transform:translateY(-0.4px) scale(1.06,1.09)">3</b></i></div>
<div class="t" style="top:836.0px;color:#000;left:381.5px;width:600px;text-align:right;"><i style="width:13.82px"><b style="transform:translateY(-0.4px) scale(1.06,1.09)">3</b></i><i style="width:8.01px"><b style="transform:translateY(-0.5px) scale(1.15,1.05)">.</b></i><i style="width:13.82px"><b style="transform:translateY(-0.4px) scale(1.06,1.09)">3</b></i></div>
</body></html>
